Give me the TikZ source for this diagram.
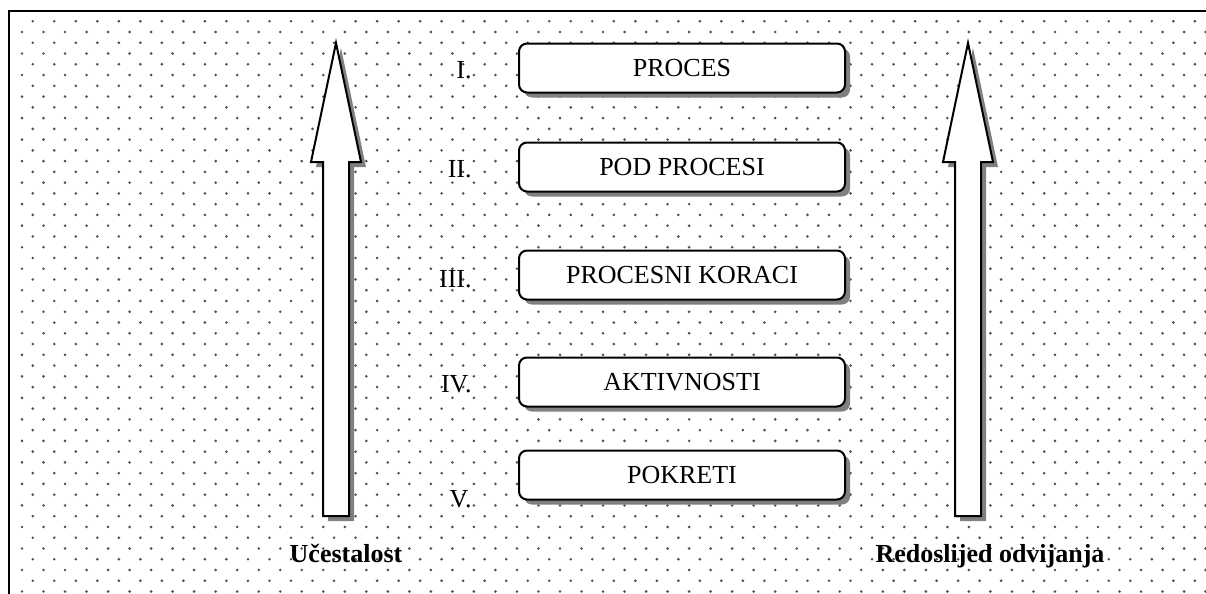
\documentclass[tikz,border=0pt]{standalone}
\usepackage{fontspec}
\setmainfont{Liberation Serif}
\usetikzlibrary{shadows,positioning}
\definecolor{cDot}  {RGB}{80,80,80}
\definecolor{cShade}{RGB}{128,128,128}
\tikzset{
  level/.style={draw,line width=1pt,rounded corners=4pt,fill=white,
                minimum width=163pt,minimum height=24.5pt,inner sep=0pt,
                font=\fontsize{13}{15}\selectfont,
                drop shadow={shadow xshift=2.5pt,shadow yshift=-2.5pt,fill=cShade,opacity=1}},
  numeral/.style={anchor=base east,inner sep=0pt,font=\fontsize{13}{15}\selectfont},
  axislabel/.style={anchor=base,inner sep=0pt,font=\fontsize{13}{15}\selectfont\bfseries},
  bigarrow/.style={draw,line width=1pt,fill=white,line join=miter,
                   drop shadow={shadow xshift=2.5pt,shadow yshift=-2.5pt,fill=cShade,opacity=1}},
}
\begin{document}
\begin{tikzpicture}[x=0.5pt,y=-0.5pt]
  \useasboundingbox (0,0) rectangle (1206,594);
  % dotted paper
  \begin{scope}
    \clip (9,11) rectangle (1206,594);
    \foreach \r in {0,...,27}
      \foreach \n in {0,...,55} {
        \fill[cDot] ({22+21.52*\n},{10.48+21.52*\r}) circle (1.45);
        \fill[cDot] ({32.76+21.52*\n},{21.24+21.52*\r}) circle (1.45);
      }
  \end{scope}
  \draw[line width=1pt] (9,594) -- (9,11) -- (1206,11);
  % the two big arrows
  \draw[bigarrow] (336,43) -- (361,162) -- (349,162) -- (349,516)
                  -- (323,516) -- (323,162) -- (311,162) -- cycle;
  \draw[bigarrow] (968,43) -- (993,162) -- (981,162) -- (981,516)
                  -- (955,516) -- (955,162) -- (943,162) -- cycle;
  % levels
  \node[level] (proc)  at (682,68)  {PROCES};
  \node[level] (sub)   at (682,167) {POD PROCESI};
  \node[level] (steps) at (682,275) {PROCESNI KORACI};
  \node[level] (act)   at (682,382) {AKTIVNOSTI};
  \node[level] (mov)   at (682,475) {POKRETI};
  \node[numeral] (nI)   at (472,78)  {I.};
  \node[numeral] (nII)  at (472,177) {II.};
  \node[numeral] (nIII) at (472,287) {III.};
  \node[numeral] (nIV)  at (472,392) {IV.};
  \node[numeral] (nV)   at (472,507) {V.};
  % labels under the arrows
  \node[axislabel] (freq)  at (346,562) {Učestalost};
  \node[axislabel] (order) at (990,562) {Redoslijed odvijanja};
\end{tikzpicture}
\end{document}
